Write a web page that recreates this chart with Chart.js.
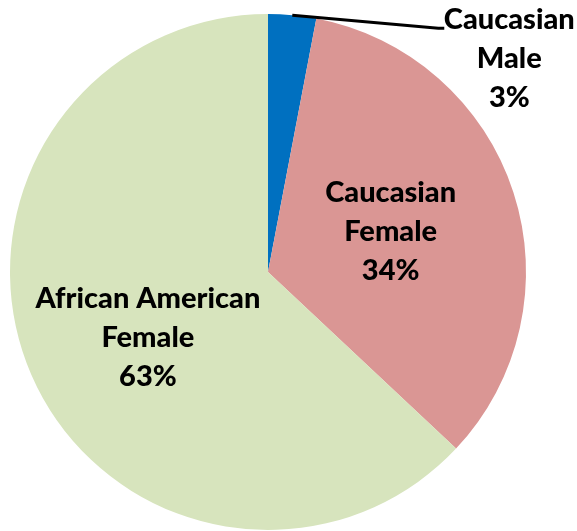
<!DOCTYPE html>
<html>
<head>
<meta charset="utf-8">
<script src="https://cdn.jsdelivr.net/npm/chart.js@4"></script>
<style>
  html, body { margin: 0; padding: 0; background: #fff; }
  #wrap { width: 577px; height: 531px; }
</style>
</head>
<body>
<div id="wrap"><canvas id="pieChart" width="577" height="531"></canvas></div>
<script>
// data
const categories = ["Caucasian Male", "Caucasian Female", "African American Female"];
const labelLines = [["Caucasian", "Male"], ["Caucasian", "Female"], ["African American", "Female"]];
const shares = [3, 34, 63];
const sliceColors = ["#0070C0", "#DA9694", "#D7E4BD"];

const FONT = "900 29px Lato, 'Open Sans', sans-serif";
const LINE_H = 39;

// draws the data labels; the small slice gets a leader line to an outside label
const pieLabels = {
    id: "pieLabels",
    afterDatasetsDraw(chart) {
        const ctx = chart.ctx;
        const meta = chart.getDatasetMeta(0);
        ctx.save();
        ctx.font = FONT;
        ctx.fillStyle = "#000";
        ctx.textAlign = "center";
        ctx.textBaseline = "middle";
        meta.data.forEach((arc, i) => {
            const p = arc.getProps(["x", "y", "startAngle", "endAngle", "outerRadius"], true);
            const mid = (p.startAngle + p.endAngle) / 2;
            const lines = labelLines[i].concat([shares[i] + "%"]);
            let cx, cy;
            if (shares[i] < 10) {
                // leader line from the slice edge out to the right
                const ex = p.x + Math.cos(mid) * p.outerRadius;
                const ey = p.y + Math.sin(mid) * p.outerRadius;
                const lx = ex + 146;
                const ly = ey + 13;
                ctx.beginPath();
                ctx.strokeStyle = "#000";
                ctx.lineWidth = 3;
                ctx.moveTo(ex, ey);
                ctx.lineTo(lx, ly);
                ctx.lineTo(lx + 6, ly);
                ctx.stroke();
                cx = lx + 71;
                cy = ly + 30;
            } else {
                // big slice label sits a little closer to the rim
                const f = shares[i] > 50 ? 0.53 : 0.5;
                const a = shares[i] > 50 ? mid - 0.09 : mid;
                cx = p.x + Math.cos(a) * p.outerRadius * f;
                cy = p.y + Math.sin(a) * p.outerRadius * f;
            }
            lines.forEach((t, k) => {
                ctx.fillText(t, cx, cy + (k - (lines.length - 1) / 2) * LINE_H);
            });
        });
        ctx.restore();
    }
};

const ctx = document.getElementById("pieChart").getContext("2d");
const pieChart = new Chart(ctx, {
    type: "pie",
    data: {
        labels: categories,
        datasets: [{
            data: shares,
            backgroundColor: sliceColors,
            borderWidth: 0
        }]
    },
    options: {
        responsive: false,
        animation: false,
        layout: { padding: { left: 10, top: 14, right: 51, bottom: 1 } },
        plugins: {
            legend: { display: false },
            tooltip: { enabled: false }
        }
    },
    plugins: [pieLabels]
});
</script>
</body>
</html>
